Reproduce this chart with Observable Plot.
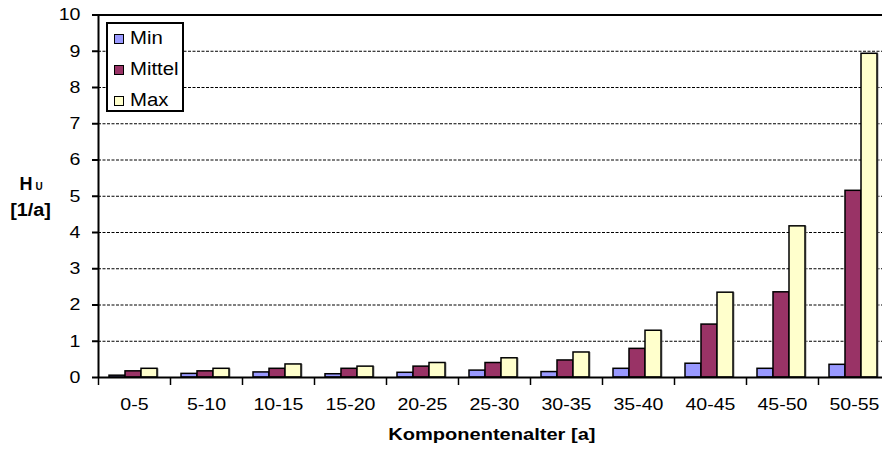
<!DOCTYPE html>
<html>
<head>
<meta charset="utf-8">
<script src="https://cdn.jsdelivr.net/npm/d3@7"></script>
<script src="https://cdn.jsdelivr.net/npm/@observablehq/plot@0.6"></script>
<style>
  html, body { margin: 0; padding: 0; background: #fff; overflow: hidden; }
  #wrap { position: relative; width: 882px; height: 458px; font-family: "Liberation Sans", Arial, sans-serif; color: #000; }
  #chart svg { display: block; }
  .ytitle { position: absolute; left: 0; width: 62px; text-align: center; font-weight: bold; font-size: 18px; line-height: 18px; white-space: nowrap; }
  .ytitle sub { font-size: 10px; vertical-align: baseline; margin-left: 3px; }
  .xtitle { position: absolute; left: 292px; width: 400px; top: 426px; text-align: center; font-weight: bold; font-size: 17px; line-height: 17px; }
  .xtitle span { display: inline-block; transform: scaleX(1.18); }
  #legend { position: absolute; left: 106px; top: 22px; width: 74px; height: 86px; border: 2px solid #000; background: #fff; }
  .lrow { height: 31px; line-height: 31px; font-size: 18px; display: flex; align-items: center; }
  .lrow:first-child { margin-top: -1px; }
  .sw { width: 8px; height: 8px; border: 1.5px solid #000; margin-left: 6px; margin-right: 6px; flex: none; }
  .lrow span { display: inline-block; transform: scaleX(1.13); transform-origin: left center; }
</style>
</head>
<body>
<div id="wrap">
  <div id="chart"></div>
  <div class="ytitle" style="top:175px;">H<sub>U</sub></div>
  <div class="ytitle" style="top:201px;"><span style="display:inline-block;transform:scaleX(1.1)">[1/a]</span></div>
  <div class="xtitle"><span id="xtitle"></span></div>
  <div id="legend"></div>
</div>
<script>
const categories = ["0-5", "5-10", "10-15", "15-20", "20-25", "25-30", "30-35", "35-40", "40-45", "45-50", "50-55"];
const seriesNames = ["Min", "Mittel", "Max"];
const minValues  = [0.05, 0.10, 0.14, 0.09, 0.13, 0.19, 0.15, 0.24, 0.38, 0.24, 0.35];
const meanValues = [0.17, 0.17, 0.24, 0.24, 0.30, 0.40, 0.47, 0.79, 1.46, 2.35, 5.15];
const maxValues  = [0.24, 0.24, 0.36, 0.30, 0.40, 0.53, 0.69, 1.29, 2.34, 4.17, 8.93];
const seriesColors = ["#9999FF", "#993366", "#FFFFCC"];
const yTicks = [0, 1, 2, 3, 4, 5, 6, 7, 8, 9, 10];
const gridTicks = [1, 2, 3, 4, 5, 6, 7, 8, 9];
const xTitle = "Komponentenalter [a]";

const seriesValues = [minValues, meanValues, maxValues];
const W = 882, H = 458, mL = 98, mR = -8, mT = 14.5, mB = 81;
const band = (W - mL - mR) / categories.length;
const groupPad = 11, barW = 16;

const barMarks = [];
seriesValues.forEach((vals, k) => {
  const rows = categories.map((c, i) => ({cat: c, value: vals[i]}));
  const insetLeft = groupPad + barW * k;
  const insetRight = band - groupPad - barW * (k + 1);
  barMarks.push(Plot.barY(rows, {x: "cat", y: "value", fill: "#9a9a9a", dx: 1.5, insetLeft, insetRight}));
  barMarks.push(Plot.barY(rows, {x: "cat", y: "value", fill: seriesColors[k], stroke: "#000", strokeWidth: 1.5, insetLeft, insetRight}));
});

const plot = Plot.plot({
  width: W, height: H,
  marginLeft: mL, marginRight: mR, marginTop: mT, marginBottom: mB,
  style: {fontFamily: "'Liberation Sans', Arial, sans-serif", fontSize: "17px", color: "#000", background: "#fff"},
  x: {domain: categories, padding: 0, axis: null},
  y: {domain: [0, 10], axis: null},
  marks: [
    Plot.ruleY(gridTicks, {stroke: "#000", strokeWidth: 1, strokeDasharray: "3,1.5"}),
    ...barMarks,
    Plot.ruleY([0, 10], {stroke: "#000", strokeWidth: 2}),
    Plot.ruleX([categories[0]], {y1: 0, y2: 10, dx: -band / 2, stroke: "#000", strokeWidth: 2}),
    Plot.axisX({tickSize: 8, tickFormat: () => "", dx: -band / 2, strokeWidth: 1.5, label: null}),
    Plot.axisX({tickSize: 0, tickPadding: 20, fontSize: 17, label: null}),
    Plot.axisY({ticks: yTicks, tickSize: 6, tickPadding: 12, fontSize: 17, strokeWidth: 2, label: null})
  ]
});
document.getElementById("chart").appendChild(plot);
plot.querySelectorAll("text").forEach(t => {
  if (!t.textContent) return;
  const L = t.getComputedTextLength();
  if (L > 0) { t.setAttribute("lengthAdjust", "spacingAndGlyphs"); t.setAttribute("textLength", (L * 1.15).toFixed(1)); }
});

document.getElementById("xtitle").textContent = xTitle;
const legend = document.getElementById("legend");
seriesNames.forEach((name, k) => {
  const row = document.createElement("div");
  row.className = "lrow";
  const sw = document.createElement("div");
  sw.className = "sw";
  sw.style.background = seriesColors[k];
  const label = document.createElement("span");
  label.textContent = name;
  row.appendChild(sw); row.appendChild(label);
  legend.appendChild(row);
});
</script>
</body>
</html>
